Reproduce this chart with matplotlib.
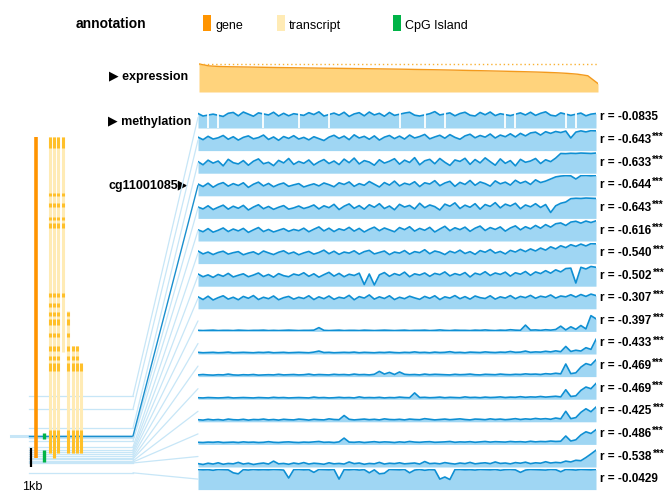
import numpy as np
import matplotlib
matplotlib.use("Agg")
import matplotlib.pyplot as plt
from matplotlib.patches import ConnectionPatch, Rectangle

plt.rcParams['font.family'] = ['Liberation Sans', 'DejaVu Sans']

nan = np.nan
W, H = 664, 495

# expression of all samples, sorted high -> low (fraction of max)
expression = [1.00, 0.93, 0.91, 0.90, 0.895, 0.89, 0.883, 0.877, 0.871, 0.866,
              0.861, 0.856, 0.851, 0.847, 0.843, 0.838, 0.833, 0.828, 0.823, 0.818,
              0.813, 0.806, 0.80, 0.794, 0.787, 0.78, 0.772, 0.764, 0.756, 0.748,
              0.74, 0.731, 0.722, 0.712, 0.70, 0.685, 0.665, 0.635, 0.58, 0.30]

# methylation (beta value in %), samples in the same order as expression
meth_01 = [69, 57, nan, 66, nan, 55, 70, 74, 58, 76, 66, 56, 72, nan, 62, 75, 57, 70, 58, 68,
           nan, 60, 73, 64, 77, 57, nan, 71, 61, 75, 55, 67, 73, 58, 76, 62, 70, 56, 74, 60,
           nan, 71, 75, 61, 57, nan, 68, 78, 62, nan, 72, 58, 69, 75, 61, 57, 74, 63, 76, 59,
           68, nan, 59, nan, 72, 62, 75, 60, 70, 77, 61, 57, 72, nan, 60, nan, 71, 58, 66, 69]
meth_02 = [64, 52, 68, 55, 61, 72, 54, 66, 50, 63, 70, 56, 62, 74, 53, 65, 49, 67, 58, 71,
           55, 63, 51, 66, 57, 48, 64, 73, 58, 69, 52, 75, 60, 68, 54, 70, 50, 64, 72, 57,
           69, 55, 74, 60, 67, 77, 56, 65, 73, 59, 76, 63, 54, 70, 78, 61, 72, 64, 79, 60,
           74, 66, 80, 65, 82, 70, 84, 88, 74, 90, 82, 91, 86, 93, 60, 88, 94, 89, 95, 94]
meth_03 = [55, 40, 62, 48, 58, 35, 66, 50, 44, 60, 38, 57, 68, 45, 52, 36, 61, 49, 70, 42,
           56, 47, 63, 39, 54, 65, 46, 58, 41, 67, 50, 72, 44, 60, 53, 38, 64, 48, 57, 69,
           43, 62, 51, 74, 40, 59, 66, 45, 70, 52, 37, 63, 56, 71, 42, 65, 49, 73, 55, 38,
           68, 47, 60, 35, 66, 52, 58, 70, 46, 64, 55, 72, 94, 93, 95, 94, 96, 95, 94, 96]
meth_04 = [56, 44, 60, 41, 55, 63, 46, 58, 49, 62, 40, 55, 65, 47, 59, 43, 54, 61, 45, 52,
           58, 42, 50, 57, 47, 61, 53, 43, 62, 54, 66, 45, 58, 50, 68, 55, 42, 63, 51, 70,
           47, 60, 53, 67, 44, 62, 56, 72, 48, 61, 69, 45, 64, 54, 73, 50, 66, 58, 46, 71,
           57, 65, 51, 74, 60, 69, 54, 76, 63, 70, 80, 90, 94, 96, 95, 80, 96, 97, 95, 97]
meth_05 = [54, 45, 60, 42, 53, 63, 44, 58, 48, 62, 40, 54, 65, 46, 57, 43, 53, 61, 44, 50,
           59, 47, 54, 64, 45, 60, 51, 67, 42, 58, 69, 48, 61, 44, 65, 53, 70, 47, 59, 41,
           67, 54, 62, 45, 72, 51, 64, 56, 40, 68, 58, 74, 47, 63, 53, 70, 44, 66, 57, 75,
           50, 68, 59, 72, 46, 64, 55, 70, 52, 66, 28, 60, 72, 78, 94, 96, 95, 97, 96, 95]
meth_06 = [53, 44, 59, 42, 51, 62, 45, 57, 48, 60, 41, 53, 64, 45, 55, 43, 51, 59, 46, 55,
           49, 61, 44, 56, 67, 48, 61, 45, 58, 51, 65, 47, 60, 43, 56, 66, 49, 62, 53, 44,
           64, 54, 68, 47, 60, 51, 65, 43, 57, 70, 49, 63, 54, 66, 46, 61, 71, 50, 64, 55,
           67, 47, 62, 72, 53, 68, 58, 74, 61, 78, 66, 82, 86, 74, 90, 94, 85, 95, 88, 96]
meth_07 = [60, 46, 55, 43, 53, 59, 45, 52, 57, 42, 50, 56, 44, 60, 51, 43, 54, 61, 47, 55,
           42, 51, 58, 45, 53, 64, 47, 59, 44, 55, 50, 61, 45, 57, 63, 46, 53, 60, 43, 55,
           50, 62, 45, 57, 52, 66, 47, 60, 54, 43, 59, 51, 64, 48, 57, 44, 62, 54, 67, 50,
           58, 46, 63, 55, 68, 57, 70, 60, 74, 64, 80, 70, 85, 76, 90, 82, 93, 84, 95, 94]
meth_08 = [58, 45, 54, 42, 56, 47, 61, 44, 52, 59, 45, 53, 63, 46, 56, 43, 60, 50, 45, 58,
           52, 64, 47, 59, 43, 55, 66, 48, 61, 45, 57, 51, 62, 8, 58, 6, 54, 65, 47, 60,
           52, 67, 45, 59, 53, 63, 47, 61, 55, 68, 49, 60, 53, 65, 44, 62, 55, 69, 51, 63,
           56, 67, 48, 64, 57, 70, 52, 68, 60, 74, 62, 78, 68, 84, 86, 15, 90, 82, 94, 90]
meth_09 = [57, 44, 60, 42, 53, 62, 46, 55, 43, 59, 50, 63, 44, 55, 48, 61, 43, 53, 59, 46,
           55, 49, 62, 44, 57, 48, 61, 45, 55, 50, 64, 43, 58, 51, 66, 46, 57, 49, 62, 44,
           55, 48, 60, 52, 45, 59, 50, 62, 44, 57, 51, 63, 48, 58, 46, 61, 53, 49, 62, 46,
           57, 51, 63, 48, 59, 53, 64, 50, 60, 55, 66, 51, 61, 57, 67, 56, 68, 59, 70, 63]
meth_10 = [5, 4, 5, 6, 4, 5, 5, 4, 6, 5, 4, 5, 5, 6, 4, 5, 4, 5, 6, 5,
           4, 5, 5, 6, 18, 5, 4, 5, 6, 4, 5, 5, 4, 6, 5, 4, 5, 6, 5, 4,
           5, 6, 4, 5, 5, 6, 4, 5, 7, 5, 4, 6, 5, 5, 4, 6, 5, 7, 5, 4,
           6, 5, 8, 6, 5, 30, 6, 7, 5, 8, 6, 9, 25, 7, 22, 10, 28, 12, 75, 60]
meth_11 = [8, 6, 7, 8, 6, 7, 9, 6, 7, 8, 7, 6, 8, 7, 9, 6, 7, 8, 6, 7,
           8, 7, 6, 9, 14, 7, 8, 6, 7, 8, 7, 9, 6, 8, 7, 6, 8, 7, 9, 7,
           6, 8, 7, 10, 7, 8, 6, 9, 7, 8, 11, 7, 8, 6, 9, 8, 7, 10, 8, 7,
           9, 8, 12, 8, 9, 14, 8, 10, 9, 13, 10, 15, 11, 36, 12, 18, 14, 30, 22, 70]
meth_12 = [8, 10, 8, 7, 9, 8, 12, 8, 7, 9, 8, 10, 7, 8, 9, 8, 11, 8, 9, 10,
           8, 9, 12, 8, 10, 9, 8, 11, 9, 10, 8, 12, 9, 10, 8, 11, 25, 12, 20, 10,
           22, 11, 9, 10, 8, 12, 9, 11, 10, 9, 8, 11, 9, 10, 12, 9, 8, 11, 10, 9,
           12, 10, 9, 11, 10, 13, 11, 12, 10, 14, 12, 16, 13, 60, 14, 18, 45, 62, 55, 80]
meth_13 = [7, 6, 8, 7, 6, 7, 9, 6, 7, 8, 7, 6, 8, 7, 6, 9, 7, 8, 6, 7,
           8, 7, 6, 10, 7, 8, 6, 7, 9, 7, 8, 6, 11, 7, 8, 7, 9, 6, 8, 7,
           10, 8, 7, 30, 8, 9, 7, 8, 10, 7, 9, 8, 7, 11, 8, 9, 7, 10, 8, 9,
           11, 8, 10, 9, 12, 9, 11, 10, 13, 10, 12, 14, 11, 45, 13, 16, 42, 58, 50, 75]
meth_14 = [10, 8, 12, 9, 11, 8, 13, 10, 9, 12, 8, 11, 10, 13, 9, 11, 8, 12, 10, 9,
           13, 11, 8, 12, 10, 9, 14, 11, 10, 30, 12, 9, 11, 13, 10, 12, 9, 14, 11, 10,
           12, 9, 13, 11, 10, 15, 12, 9, 11, 13, 10, 12, 14, 11, 9, 13, 12, 10, 14, 11,
           13, 10, 12, 15, 11, 14, 12, 16, 13, 15, 12, 18, 14, 50, 15, 20, 45, 62, 48, 70]
meth_15 = [10, 9, 11, 10, 12, 9, 10, 11, 9, 12, 10, 11, 9, 10, 13, 10, 9, 11, 12, 10,
           9, 11, 10, 12, 14, 10, 11, 9, 12, 30, 11, 10, 12, 9, 11, 13, 10, 12, 11, 9,
           12, 10, 14, 11, 10, 12, 13, 10, 11, 12, 14, 10, 12, 11, 13, 10, 12, 14, 11, 13,
           12, 11, 14, 12, 13, 11, 15, 12, 14, 13, 16, 14, 15, 40, 16, 22, 45, 60, 52, 70]
meth_16 = [16, 12, 18, 14, 20, 13, 17, 15, 22, 14, 18, 12, 16, 19, 14, 28, 15, 17, 13, 19,
           15, 21, 14, 18, 16, 13, 20, 15, 17, 14, 24, 16, 19, 13, 17, 15, 22, 14, 18, 16,
           20, 15, 17, 19, 14, 26, 16, 18, 15, 21, 17, 14, 19, 16, 22, 15, 18, 20, 16, 24,
           17, 19, 15, 21, 18, 23, 16, 20, 18, 25, 19, 22, 20, 28, 24, 32, 30, 45, 62, 80]
meth_17 = [96, 94, 95, 92, 96, 95, 94, 80, 75, 95, 93, 96, 94, 95, 94, 96, 95, 93, 55, 95,
           96, 94, 95, 82, 96, 95, 94, 96, 50, 95, 94, 96, 93, 95, 80, 94, 75, 78, 96, 95,
           94, 96, 80, 93, 96, 92, 95, 94, 50, 60, 48, 95, 96, 94, 95, 93, 96, 95, 94, 96,
           92, 95, 96, 94, 82, 93, 96, 95, 94, 93, 96, 95, 85, 96, 95, 93, 96, 95, 94, 96]
methylation = [meth_01, meth_02, meth_03, meth_04, meth_05, meth_06, meth_07, meth_08, meth_09,
               meth_10, meth_11, meth_12, meth_13, meth_14, meth_15, meth_16, meth_17]

r_values = ['-0.0835', '-0.643', '-0.633', '-0.644', '-0.643', '-0.616', '-0.540', '-0.502', '-0.307',
            '-0.397', '-0.433', '-0.469', '-0.469', '-0.425', '-0.486', '-0.538', '-0.0429']
r_stars = [''] + ['***'] * 15 + ['']

# gene annotation, kb from gene start (drawn top -> bottom)
gene_span = (0.0, 16.89)
transcript_lanes = [50, 54, 58, 63, 68, 73, 77, 81]
transcript_spans = [(0.0, 16.63), (0.0, 16.89), (0.0, 16.63), (0.0, 11.32),
                    (9.16, 16.63), (11.0, 16.63), (11.0, 16.63), (12.05, 16.63)]
exon_spans = [(0.0, 0.58), (2.95, 3.11), (3.47, 3.68), (4.21, 4.37), (4.53, 4.79),
              (8.21, 8.42), (8.74, 8.95), (9.21, 9.42), (9.58, 9.89), (10.32, 10.53),
              (11.0, 11.26), (11.53, 11.74), (11.89, 12.32), (15.42, 16.63), (15.42, 16.89)]
exon_members = [[0, 1, 2, 3], [0, 1, 2, 3], [0, 1, 2, 3], [0, 1, 2, 3], [0, 1, 2, 3],
                [0, 1, 2, 3], [0, 1, 2], [0, 1, 2, 4], [0, 1, 2, 4], [0, 1, 2, 4],
                [0, 1, 2, 4, 5, 6], [0, 1, 2, 4, 5, 6], [0, 1, 2, 4, 5, 6, 7],
                [0, 2, 4, 5, 6, 7], [1]]
cpg_spans = [(15.58, 15.89), (16.47, 17.10)]
scale_bar = (16.37, 17.37)
probe_kb = [13.63, 14.32, 15.32, 15.74, 15.84, 16.0, 16.32, 16.47, 16.58,
            16.68, 16.79, 16.89, 16.95, 17.05, 17.11, 17.16, 17.68]
highlight = 3
probe_name = 'cg11001085'

gene_orange = '#FF9400'
transcript_light = '#FFEBB5'
exon_col = '#FFC02A'
cpg_green = '#00B347'
track_line = '#0E8FD3'
track_fill = '#9FD6F3'
conn_light = '#C7E6F7'
conn_dark = '#1A8FCE'
expr_fill = '#FFD37C'
expr_line = '#F39A1D'


def px_rect(left, top, w, h):
    return [left / W, 1 - (top + h) / H, w / W, h / H]


fig = plt.figure(figsize=(W / 100, H / 100), dpi=100)

base = fig.add_axes([0, 0, 1, 1])
base.set_xlim(0, W)
base.set_ylim(H, 0)
base.axis('off')

# header / legend
base.text(76, 24, 'annotation', fontsize=10, weight='bold', va='center')
for x0, col, lab in [(203, gene_orange, 'gene'), (277, transcript_light, 'transcript'),
                     (393, cpg_green, 'CpG Island')]:
    base.add_patch(Rectangle((x0, 15), 8, 16, color=col, lw=0))
    base.text(x0 + 12, 26, lab, fontsize=9, va='center')

base.text(188, 77, '▶ expression', fontsize=9, weight='bold', va='center', ha='right')
base.text(191, 122, '▶ methylation', fontsize=9, weight='bold', va='center', ha='right')
base.text(188, 186, probe_name + '▶', fontsize=9, weight='bold', va='center', ha='right')

# expression
eax = fig.add_axes(px_rect(199, 62, 399, 30))
ex = np.arange(len(expression))
eax.fill_between(ex, 0, expression, color=expr_fill, lw=0)
eax.plot(ex, expression, color=expr_line, lw=1)
eax.axhline(1.0, color='#F9B233', ls=(0, (1, 2)), lw=1)
eax.set_xlim(0, len(expression) - 1)
eax.set_ylim(0, 1.07)
eax.axis('off')

# gene diagram
gax = fig.add_axes(px_rect(0, 130, 133, 340))
gax.set_xlim(0, 133)
gax.set_ylim(17.53, -0.37)
gax.axis('off')

for i, kb in enumerate(probe_kb):
    if i != highlight:
        gax.plot([29, 133], [kb, kb], color=conn_light, lw=0.9, zorder=1, clip_on=False)
hl = probe_kb[highlight]
gax.plot([11, 133], [hl, hl], color=conn_light, lw=2.2, zorder=1, clip_on=False)
gax.plot([29, 133], [hl, hl], color=conn_dark, lw=1.0, zorder=2, clip_on=False)

gax.vlines(35.5, gene_span[0], gene_span[1], color=gene_orange, lw=2.6, zorder=3)
for lane, (a, b) in zip(transcript_lanes, transcript_spans):
    gax.vlines(lane, a, b, color=transcript_light, lw=2.2, zorder=3)
for (a, b), members in zip(exon_spans, exon_members):
    for m in members:
        gax.vlines(transcript_lanes[m], a, b, color=exon_col, lw=2.2, zorder=4)
for a, b in cpg_spans:
    gax.vlines(43.5, a, b, color=cpg_green, lw=2.4, zorder=4)
gax.vlines(31, scale_bar[0], scale_bar[1], color='black', lw=1.6, zorder=4)
gax.text(32, 18.45, '1kb', fontsize=9, ha='center', va='center', clip_on=False)

# methylation tracks
for i, vals in enumerate(methylation):
    top = 107 + 22.6 * i
    tax = fig.add_axes(px_rect(198, top, 398, 21))
    v = np.array(vals, dtype=float) / 100
    x = np.arange(len(v))
    ok = ~np.isnan(v)
    # line/area over the measured samples, missing samples shown as white gaps
    tax.fill_between(x[ok], 0, v[ok], color=track_fill, lw=0)
    tax.plot(x[ok], v[ok], color=track_line, lw=1.2)
    if (~ok).any():
        tax.vlines(x[~ok], 0, 1, color='white', lw=1.3, zorder=3)
    tax.set_xlim(0, len(v) - 1)
    tax.set_ylim(0, 1)
    tax.axis('off')

    r_txt = tax.annotate('r = ' + r_values[i], xy=(1, 0.5), xycoords='axes fraction',
                         xytext=(3, 0), textcoords='offset points',
                         ha='left', va='center', fontsize=8.5, weight='bold')
    if r_stars[i]:
        tax.annotate(r_stars[i], xy=(1, 0.5), xycoords=r_txt, xytext=(0.8, 2.2),
                     textcoords='offset points', ha='left', va='center',
                     fontsize=7, weight='bold')

    con = ConnectionPatch(xyA=(133, probe_kb[i]), coordsA=gax.transData,
                          xyB=(0, 0.5), coordsB=tax.transAxes,
                          color=conn_dark if i == highlight else conn_light,
                          lw=1.0 if i == highlight else 0.9,
                          zorder=3 if i == highlight else 2)
    fig.add_artist(con)

fig.savefig('out.png', dpi=100)
